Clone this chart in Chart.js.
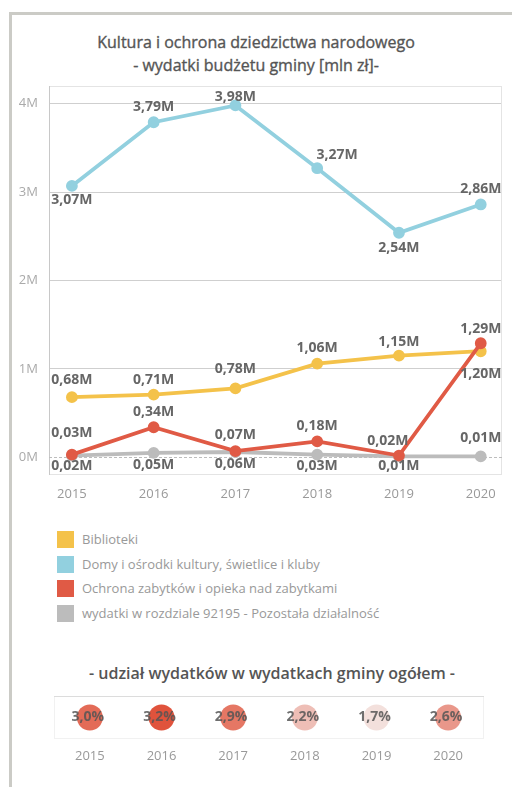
<!DOCTYPE html>
<html><head><meta charset="utf-8">
<script src="https://cdn.jsdelivr.net/npm/chart.js@4/dist/chart.umd.min.js"></script>
<style>
html,body{margin:0;padding:0;background:#fff;}
body{width:512px;height:787px;position:relative;overflow:hidden;font-family:"Open Sans",sans-serif;}
#frameTop{position:absolute;left:9px;top:12px;width:503px;height:3px;background:#cbcbc6;}
#frameLeft{position:absolute;left:9px;top:12px;width:3px;height:775px;background:#cbcbc6;}
#title{position:absolute;left:0;width:512px;top:31px;text-align:center;font-size:16px;line-height:23px;color:#555;font-weight:400;-webkit-text-stroke:0.35px #555;}
#mainWrap{position:absolute;left:0;top:0;width:512px;height:510px;}
.leg{position:absolute;left:57px;height:17px;font-size:13px;color:#999;line-height:17px;white-space:nowrap;}
.leg span{display:inline-block;width:17px;height:17px;vertical-align:top;margin-right:8px;}
#subtitle{position:absolute;left:0;width:544px;top:661px;text-align:center;font-size:16px;line-height:24px;color:#555;font-weight:600;}
#bubWrap{position:absolute;left:41px;top:683px;width:456px;height:90px;}
</style>
</head><body>
<div id="frameTop"></div><div id="frameLeft"></div>
<div id="title">Kultura i ochrona dziedzictwa narodowego<br>- wydatki budżetu gminy [mln zł]-</div>
<div id="mainWrap"><canvas id="main"></canvas></div>
<div id="legend"></div>
<div id="subtitle">- udział wydatków w wydatkach gminy ogółem -</div>
<div id="bubWrap"><canvas id="bub"></canvas></div>
<script>
// ---- data ----
const years = [2015, 2016, 2017, 2018, 2019, 2020];
const biblioteki = [0.68, 0.71, 0.78, 1.06, 1.15, 1.20];
const domyKultury = [3.07, 3.79, 3.98, 3.27, 2.54, 2.86];
const ochronaZabytkow = [0.03, 0.34, 0.07, 0.18, 0.02, 1.29];
const pozostala = [0.02, 0.05, 0.06, 0.03, 0.01, 0.01];
const yTicks = [0, 1, 2, 3, 4];
const udzialProc = [3.0, 3.2, 2.9, 2.2, 1.7, 2.6];
const seriesNames = ['Biblioteki', 'Domy i ośrodki kultury, świetlice i kluby', 'Ochrona zabytków i opieka nad zabytkami', 'wydatki w rozdziale 92195 - Pozostała działalność'];

// ---- styles ----
const colors = ['#f4c24a', '#92d0df', '#e05a45', '#bcbcbc'];
// label offsets [dx, dy] per series & point
const labelOffsets = [
  [[0,-17],[0,-15],[0,-19],[0,-16],[0,-14],[0,23]],
  [[0,14],[0,-15],[0,-8],[20,-13],[0,15],[0,-15]],
  [[0,-22],[0,-15],[0,-16],[0,-15],[-11,-15],[0,-14]],
  [[0,10],[0,12],[0,12],[0,11],[0,10],[0,-18]]
];

// legend
const legEl = document.getElementById('legend');
seriesNames.forEach((n, i) => {
  const d = document.createElement('div');
  d.className = 'leg';
  d.style.top = (531 + i * 24.5) + 'px';
  d.innerHTML = '<span style="background:' + colors[i] + '"></span>' + n;
  legEl.appendChild(d);
});

const fmt = v => v.toFixed(2).replace('.', ',') + 'M';

const framePlugin = {
  id: 'frame',
  beforeDatasetsDraw(chart) {
    const {ctx, chartArea: a, scales} = chart;
    ctx.save();
    ctx.strokeStyle = '#e4e4e4';
    ctx.lineWidth = 1;
    ctx.strokeRect(a.left + 0.5, a.top + 0.5, a.right - a.left - 1, a.bottom - a.top - 1);
    ctx.strokeStyle = '#c8c8c8';
    ctx.beginPath(); ctx.moveTo(a.left + 0.5, a.top); ctx.lineTo(a.left + 0.5, a.bottom); ctx.stroke();
    const y0 = Math.round(scales.y.getPixelForValue(0)) + 0.5;
    ctx.strokeStyle = '#bdbdbd';
    ctx.setLineDash([3, 2]);
    ctx.beginPath(); ctx.moveTo(a.left, y0); ctx.lineTo(a.right, y0); ctx.stroke();
    ctx.restore();
  },
  afterDatasetsDraw(chart) {
    const ctx = chart.ctx;
    ctx.save();
    ctx.font = 'bold 14px "Open Sans"';
    ctx.fillStyle = '#666';
    ctx.textAlign = 'center';
    ctx.textBaseline = 'middle';
    chart.data.datasets.forEach((ds, di) => {
      const meta = chart.getDatasetMeta(di);
      meta.data.forEach((pt, i) => {
        const off = labelOffsets[di][i];
        ctx.fillText(fmt(ds.data[i].y), pt.x + off[0], pt.y + off[1]);
      });
    });
    ctx.restore();
  }
};

const mk = (arr) => arr.map((v, i) => ({x: years[i], y: v}));
const datasets = [biblioteki, domyKultury, ochronaZabytkow, pozostala].map((arr, i) => ({
  label: seriesNames[i],
  data: mk(arr),
  borderColor: colors[i],
  backgroundColor: colors[i],
  borderWidth: 3.8,
  pointRadius: 4,
  pointHoverRadius: 4,
  tension: 0,
  order: [1, 2, 0, 3][i]
}));

new Chart(document.getElementById('main'), {
  type: 'line',
  data: {datasets},
  options: {
    responsive: true, maintainAspectRatio: false, animation: false,
    layout: {padding: {top: 86, right: 10, left: 0, bottom: 0}},
    plugins: {legend: {display: false}, tooltip: {enabled: false}},
    scales: {
      x: {
        type: 'linear', min: 2014.72, max: 2020.26,
        afterBuildTicks: s => { s.ticks = years.map(v => ({value: v})); },
        afterFit: s => { s.height = 35; },
        grid: {display: false, drawTicks: false},
        border: {display: false},
        ticks: {color: '#999', font: {size: 13, family: '"Open Sans"'}, padding: 11, callback: v => String(v), autoSkip: false, maxRotation: 0}
      },
      y: {
        min: -0.2, max: 4.2,
        afterBuildTicks: s => { s.ticks = yTicks.map(v => ({value: v})); },
        afterFit: s => { s.width = 49; },
        grid: {color: ctx => ctx.tick && ctx.tick.value === 0 ? 'rgba(0,0,0,0)' : '#cfcfcf', drawTicks: false, lineWidth: 1},
        border: {display: false},
        ticks: {color: '#aaa', font: {size: 13, family: '"Open Sans"'}, padding: 11, callback: v => v + 'M'}
      }
    }
  },
  plugins: [framePlugin]
});

// bubble colors from value
function mix(c1, c2, t) {
  const p = c => [1,3,5].map(k => parseInt(c.substr(k, 2), 16));
  const a = p(c1), b = p(c2);
  return 'rgb(' + a.map((v, k) => Math.round(v + (b[k] - v) * t)).join(',') + ')';
}
const minP = Math.min(...udzialProc), maxP = Math.max(...udzialProc);
const bubColors = udzialProc.map(v => mix('#f3e0dc', '#e0533c', Math.pow((v - minP) / (maxP - minP), 1.3)));

const bubPlugin = {
  id: 'bubLabels',
  beforeDatasetsDraw(chart) {
    const {ctx, chartArea: a} = chart;
    ctx.save();
    ctx.strokeStyle = '#f1f1f1';
    ctx.strokeRect(a.left + 0.5, a.top + 0.5, a.right - a.left - 1, a.bottom - a.top - 1);
    ctx.strokeStyle = '#dcdcdc';
    ctx.beginPath(); ctx.moveTo(a.left, a.top + 0.5); ctx.lineTo(a.right, a.top + 0.5); ctx.stroke();
    ctx.restore();
  },
  afterDatasetsDraw(chart) {
    const ctx = chart.ctx;
    ctx.save();
    ctx.font = 'bold 14px "Open Sans"';
    ctx.fillStyle = 'rgba(85,85,85,0.85)';
    ctx.textAlign = 'center';
    ctx.textBaseline = 'middle';
    chart.getDatasetMeta(0).data.forEach((pt, i) => {
      ctx.fillText(udzialProc[i].toFixed(1).replace('.', ',') + '%', pt.x - 2, pt.y);
    });
    ctx.restore();
  }
};

new Chart(document.getElementById('bub'), {
  type: 'bubble',
  data: {
    labels: years.map(String),
    datasets: [{
      data: udzialProc.map((v, i) => ({x: String(years[i]), y: 0})),
      backgroundColor: bubColors,
      borderWidth: 0,
      radius: 13,
      hoverRadius: 0
    }]
  },
  options: {
    responsive: true, maintainAspectRatio: false, animation: false,
    layout: {padding: 0},
    plugins: {legend: {display: false}, tooltip: {enabled: false}},
    scales: {
      x: {
        type: 'category', offset: true,
        afterFit: s => { s.height = 34; },
        grid: {display: false, drawTicks: false},
        border: {display: false},
        ticks: {color: '#999', font: {size: 13, family: '"Open Sans"'}, padding: 9}
      },
      y: {display: false, min: -1, max: 1}
    }
  },
  plugins: [bubPlugin]
});
</script>
</body></html>
